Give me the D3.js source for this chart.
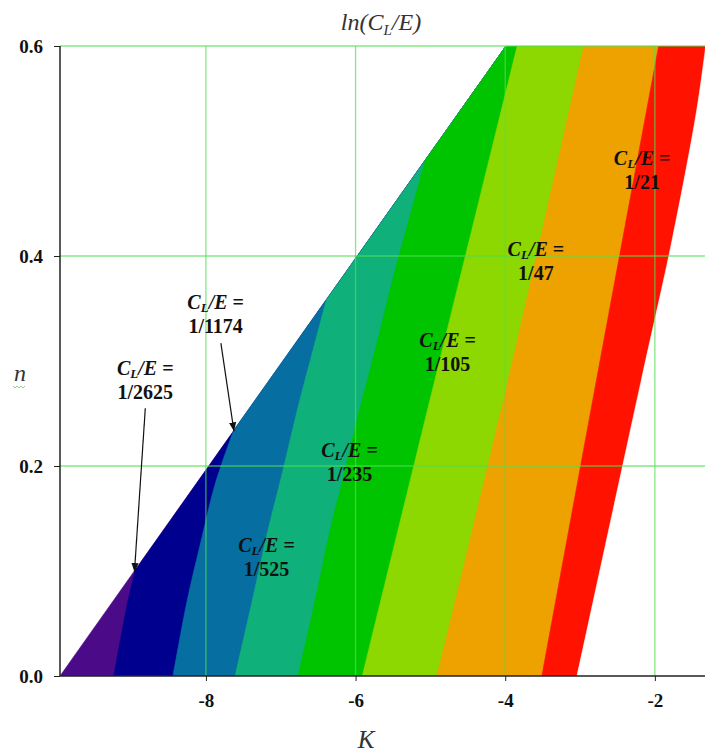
<!DOCTYPE html>
<html>
<head>
<meta charset="utf-8">
<script src="https://cdn.jsdelivr.net/npm/d3@7"></script>
<style>
  body { margin: 0; background: #fff; }
  text { font-family: "Liberation Serif", "Times New Roman", serif; }
</style>
</head>
<body>
<svg id="chart" width="705" height="755"></svg>
<script>
var width = 705, height = 755;
var margin = {left: 60, right: 0, top: 46, bottom: 79};

// axis ranges and ticks
var kDomain = [-9.95, -1.33];
var nDomain = [0, 0.6];
var kTicks = [-8, -6, -4, -2];
var nTicks = [0.0, 0.2, 0.4, 0.6];

// contour boundaries, each as [K, n] points from n = 0 upward
var diagonal   = [[-9.95, 0], [-3.99, 0.6]];
var purpleNavy = [[-9.23, 0], [-9.04, 0.072], [-8.94, 0.101]];
var navyBlue   = [[-8.44, 0], [-8.25, 0.072], [-8.06, 0.13], [-7.88, 0.182], [-7.63, 0.234]];
var blueTeal   = [[-7.61, 0], [-7.38, 0.072], [-7.17, 0.139], [-6.97, 0.196], [-6.78, 0.253], [-6.57, 0.31], [-6.39, 0.358]];
var tealGreen  = [[-6.77, 0], [-6.54, 0.072], [-6.34, 0.139], [-6.14, 0.196], [-5.98, 0.244], [-5.74, 0.31], [-5.47, 0.387], [-5.25, 0.444], [-5.07, 0.491]];
var greenLime  = [[-5.91, 0], [-4.94, 0.282], [-3.84, 0.6]];
var limeOrange = [[-4.91, 0], [-3.96, 0.282], [-2.95, 0.6]];
var orangeRed  = [[-3.51, 0], [-2.78, 0.282], [-1.95, 0.6]];
var redWhite   = [[-3.04, 0], [-2.18, 0.282], [-1.77, 0.415], [-1.44, 0.539], [-1.32, 0.6]];

var boundaries = [diagonal, purpleNavy, navyBlue, blueTeal, tealGreen, greenLime, limeOrange, orangeRed, redWhite];
var bandColors = ["#4b0a88", "#00008e", "#066ea0", "#0fb07a", "#00c400", "#8cd800", "#eea200", "#ff1200", "#ffffff"];

// annotations
var labelText = ["1/2625", "1/1174", "1/525", "1/235", "1/105", "1/47", "1/21"];
var labelK = [-8.81, -7.87, -7.19, -6.08, -4.77, -3.59, -2.17];
var labelN = [0.292, 0.355, 0.124, 0.214, 0.319, 0.406, 0.492];
var arrowFrom = [[-8.81, 0.255], [-7.80, 0.317]];
var arrowTo   = [[-8.955, 0.099], [-7.625, 0.233]];

var svg = d3.select("#chart");

var x = d3.scaleLinear().domain(kDomain).range([margin.left, width - margin.right]);
var y = d3.scaleLinear().domain(nDomain).range([height - margin.bottom, margin.top]);

svg.append("defs").append("clipPath").attr("id", "plotClip")
  .append("rect")
  .attr("x", x(kDomain[0])).attr("y", y(nDomain[1]))
  .attr("width", x(kDomain[1]) - x(kDomain[0]))
  .attr("height", y(nDomain[0]) - y(nDomain[1]));

svg.select("defs").append("marker")
  .attr("id", "arrowHead")
  .attr("viewBox", "0 0 10 10")
  .attr("refX", 10).attr("refY", 5)
  .attr("markerWidth", 9).attr("markerHeight", 9)
  .attr("markerUnits", "userSpaceOnUse")
  .attr("orient", "auto")
  .append("path").attr("d", "M0,1 L10,5 L0,9 Z").attr("fill", "#111");

var curve = d3.line()
  .x(function(d) { return x(d[0]); })
  .y(function(d) { return y(d[1]); })
  .curve(d3.curveCatmullRom);

var diagTop = diagonal[diagonal.length - 1];
var farK = -1.0;

// each band covers everything right of its left boundary; later bands paint over
function bandPath(b) {
  var p = curve(b);
  var last = b[b.length - 1];
  if (last[1] < nDomain[1]) p += "L" + x(diagTop[0]) + "," + y(diagTop[1]);
  p += "L" + x(farK) + "," + y(nDomain[1]);
  p += "L" + x(farK) + "," + y(nDomain[0]) + "Z";
  return p;
}

var plot = svg.append("g").attr("clip-path", "url(#plotClip)");
plot.selectAll("path.band")
  .data(boundaries)
  .enter()
  .append("path")
  .attr("class", "band")
  .attr("d", bandPath)
  .attr("fill", function(d, i) { return bandColors[i]; })
  .attr("stroke", function(d, i) { return bandColors[i]; })
  .attr("stroke-width", 0.6);

// grid on top, semi transparent
var grid = svg.append("g");
grid.selectAll("line.vg")
  .data(kTicks)
  .enter().append("line")
  .attr("x1", function(d) { return x(d); }).attr("x2", function(d) { return x(d); })
  .attr("y1", y(nDomain[0])).attr("y2", y(nDomain[1]))
  .attr("stroke", "#4ee04e").attr("stroke-opacity", 0.7).attr("stroke-width", 1.3);
grid.selectAll("line.hg")
  .data(nTicks.filter(function(d) { return d > 0; }))
  .enter().append("line")
  .attr("x1", x(kDomain[0])).attr("x2", x(kDomain[1]))
  .attr("y1", function(d) { return y(d); }).attr("y2", function(d) { return y(d); })
  .attr("stroke", "#4ee04e").attr("stroke-opacity", 0.7).attr("stroke-width", 1.3);

// axes
var xAxis = d3.axisBottom(x).tickValues(kTicks).tickSize(5).tickFormat(function(d) { return String(d); });
var yAxis = d3.axisLeft(y).tickValues(nTicks).tickSize(6).tickFormat(d3.format(".1f"));

var gx = svg.append("g").attr("transform", "translate(0," + y(0) + ")").call(xAxis);
var gy = svg.append("g").attr("transform", "translate(" + x(kDomain[0]) + ",0)").call(yAxis);

gx.select(".domain").attr("stroke", "#222").attr("stroke-width", 1.5).attr("d", "M" + x(kDomain[0]) + ",0H" + x(kDomain[1]));
gy.select(".domain").attr("stroke", "#222").attr("stroke-width", 1.5).attr("d", "M0," + y(nDomain[0]) + "V" + y(nDomain[1]));
gx.selectAll(".tick line").attr("stroke", "#222");
gy.selectAll(".tick line").attr("stroke", "#222");
gx.selectAll(".tick text")
  .attr("dy", null).attr("y", 31)
  .attr("fill", "#111").style("font-size", "19px").style("font-weight", "bold")
  .style("font-family", "'Liberation Serif', serif");
gy.selectAll(".tick text")
  .attr("x", -17).attr("dy", "0.32em")
  .attr("fill", "#111").style("font-size", "19px").style("font-weight", "bold")
  .style("font-family", "'Liberation Serif', serif");

// title
var title = svg.append("text")
  .attr("x", 381).attr("y", 30)
  .attr("text-anchor", "middle")
  .style("font-size", "24px").style("font-style", "italic").attr("fill", "#333");
title.append("tspan").text("ln(C");
title.append("tspan").attr("dy", 5).style("font-size", "15px").text("L");
title.append("tspan").attr("dy", -5).text("/E)");

// axis titles
svg.append("text")
  .attr("x", 366).attr("y", 748)
  .attr("text-anchor", "middle")
  .style("font-size", "25px").style("font-style", "italic").attr("fill", "#333")
  .text("K");
svg.append("text")
  .attr("x", 20).attr("y", 381)
  .attr("text-anchor", "middle")
  .style("font-size", "24px").style("font-style", "italic").attr("fill", "#333")
  .text("n");
svg.append("path")
  .attr("d", d3.range(0, 14, 2).map(function(i) { return (i === 0 ? "M" : "L") + (13 + i) + "," + (386 + (i % 4 === 0 ? 0 : 2)); }).join(""))
  .attr("fill", "none").attr("stroke", "#7cc07c").attr("stroke-width", 0.8);

// contour labels
var labels = svg.append("g");
labelText.forEach(function(t, i) {
  var cx = x(labelK[i]), cy = y(labelN[i]);
  var l1 = labels.append("text")
    .attr("x", cx).attr("y", cy + 6)
    .attr("text-anchor", "middle")
    .style("font-size", "20px").style("font-weight", "bold").attr("fill", "#111");
  l1.append("tspan").style("font-style", "italic").text("C");
  l1.append("tspan").attr("dy", 3).style("font-size", "13px").style("font-style", "italic").text("L");
  l1.append("tspan").attr("dy", -3).style("font-style", "italic").text("/E");
  l1.append("tspan").text(" =");
  labels.append("text")
    .attr("x", cx).attr("y", cy + 30)
    .attr("text-anchor", "middle")
    .style("font-size", "20px").style("font-weight", "bold").attr("fill", "#111")
    .text(t);
});

// arrows
svg.selectAll("line.arrow")
  .data(arrowFrom)
  .enter().append("line")
  .attr("class", "arrow")
  .attr("x1", function(d) { return x(d[0]); })
  .attr("y1", function(d) { return y(d[1]); })
  .attr("x2", function(d, i) { return x(arrowTo[i][0]); })
  .attr("y2", function(d, i) { return y(arrowTo[i][1]); })
  .attr("stroke", "#111").attr("stroke-width", 1.2)
  .attr("marker-end", "url(#arrowHead)");
</script>
</body>
</html>
